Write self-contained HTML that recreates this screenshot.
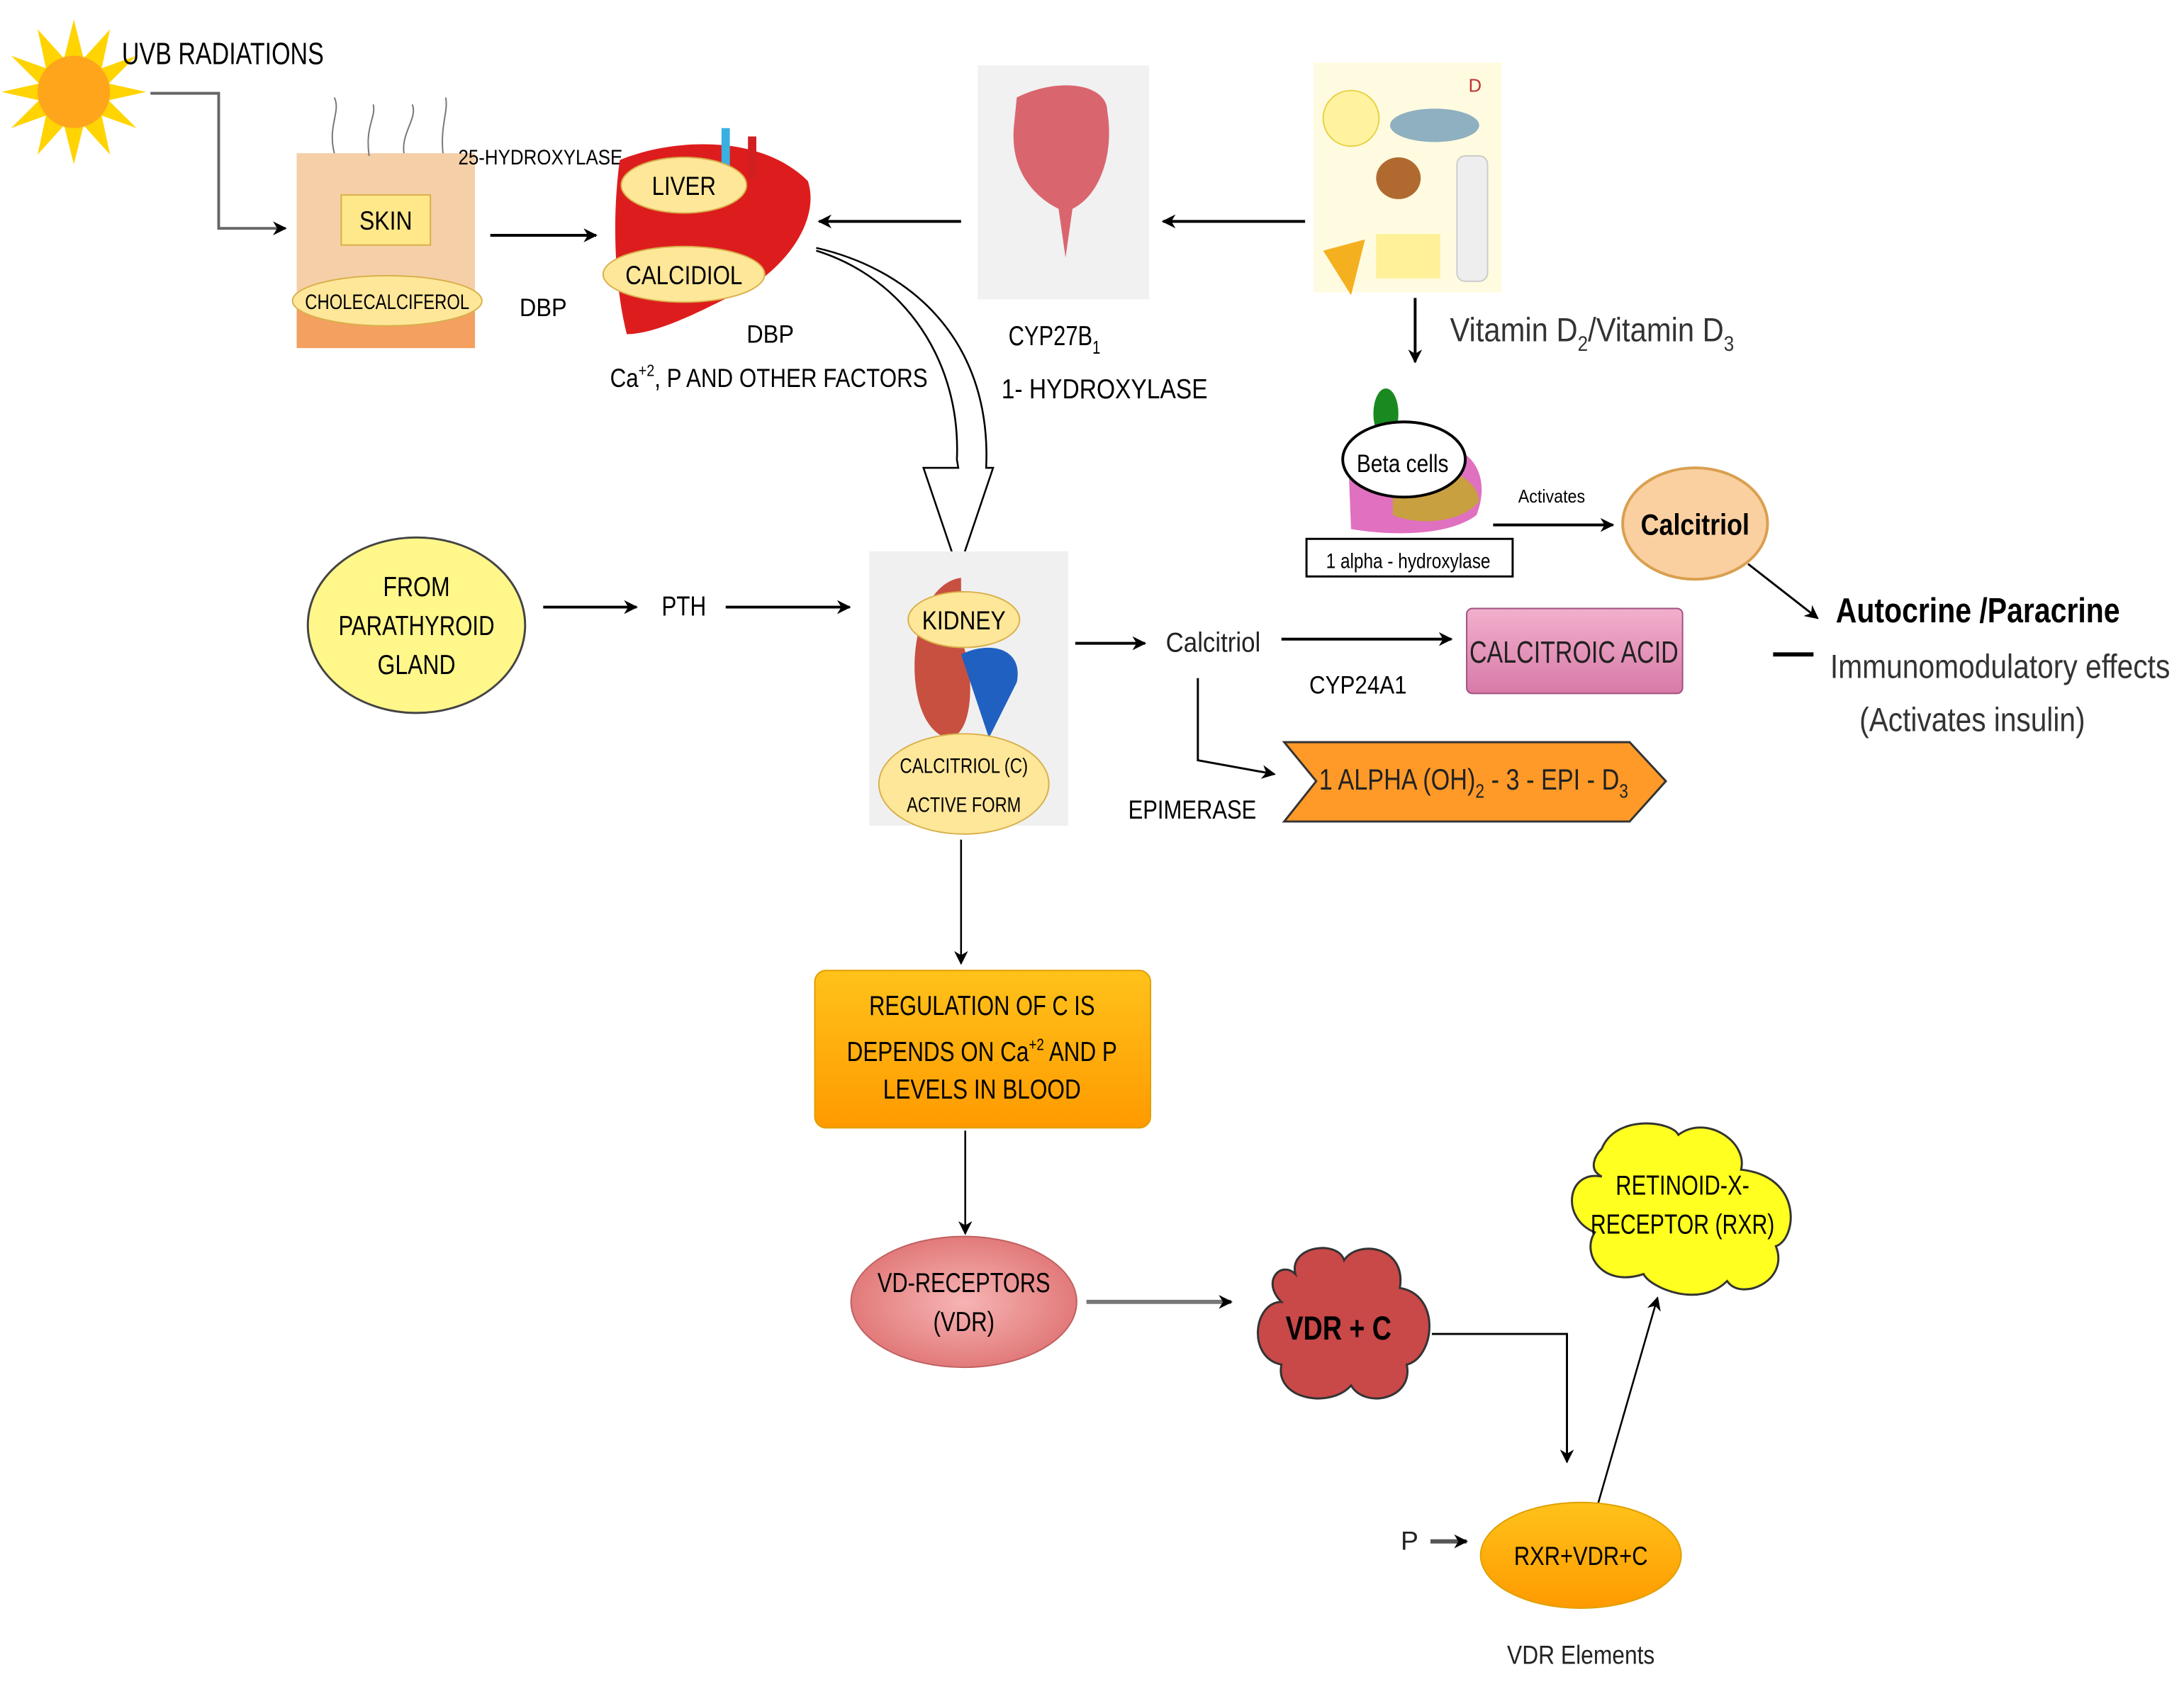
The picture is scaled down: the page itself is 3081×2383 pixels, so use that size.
<!DOCTYPE html>
<html><head><meta charset="utf-8"><style>html,body{margin:0;padding:0;background:#fff}svg{display:block}</style></head>
<body>
<svg width="3081" height="2383" viewBox="0 0 1568 1213" preserveAspectRatio="none" xmlns="http://www.w3.org/2000/svg" font-family="Liberation Sans, sans-serif">
<defs>
<marker id="a" markerWidth="10" markerHeight="10" refX="9" refY="5" orient="auto" markerUnits="userSpaceOnUse"><path d="M0,0 L10,5 L0,10 L3,5 z" fill="#000"/></marker>
<linearGradient id="og" x1="0" y1="0" x2="0" y2="1"><stop offset="0" stop-color="#ffc21a"/><stop offset="1" stop-color="#ff9a00"/></linearGradient>
<linearGradient id="pg" x1="0" y1="0" x2="0" y2="1"><stop offset="0" stop-color="#f2b0cc"/><stop offset="1" stop-color="#d77aa8"/></linearGradient>
<radialGradient id="rg"><stop offset="0" stop-color="#f7b4b4"/><stop offset="1" stop-color="#e27a7a"/></radialGradient>
</defs>
<g fill="#000" text-anchor="middle">
<!-- sun -->
<g transform="translate(53,66)"><polygon fill="#ffd400" points="0,-52 7,-24 26,-45 20,-17 45,-26 25,-6 52,0 25,6 45,26 20,17 26,45 7,24 0,52 -7,24 -26,45 -20,17 -45,26 -25,6 -52,0 -25,-6 -45,-26 -20,-17 -26,-45 -7,-24"/><circle r="26" fill="#ffa51c"/></g>
<text x="160" y="46" font-size="22" textLength="145" lengthAdjust="spacingAndGlyphs">UVB RADIATIONS</text>
<polyline points="108,67 157,67 157,164 205,164" fill="none" stroke="#666" stroke-width="2" marker-end="url(#a)"/>
<!-- skin -->
<rect x="213" y="110" width="128" height="135" fill="#f5cfa8"/>
<rect x="213" y="215" width="128" height="35" fill="#f3a060"/>
<path d="M240,110 C235,90 245,80 240,70 M265,112 C262,90 270,85 268,75 M290,110 C288,95 300,85 296,75 M318,110 C316,90 322,80 320,70" stroke="#777" fill="none"/>
<rect x="245" y="140" width="64" height="36" fill="#ffe88a" stroke="#d9b04a"/>
<text x="277" y="165" font-size="19" textLength="38" lengthAdjust="spacingAndGlyphs">SKIN</text>
<ellipse cx="278" cy="216" rx="68" ry="18" fill="#ffe79a" stroke="#d9b04a"/>
<text x="278" y="222" font-size="15" textLength="118" lengthAdjust="spacingAndGlyphs">CHOLECALCIFEROL</text>
<line x1="352" y1="169" x2="428" y2="169" stroke="#000" stroke-width="2" marker-end="url(#a)"/>
<text x="390" y="227" font-size="18" textLength="34" lengthAdjust="spacingAndGlyphs">DBP</text>
<text x="388" y="118" font-size="15" textLength="118" lengthAdjust="spacingAndGlyphs">25-HYDROXYLASE</text>
<!-- liver -->
<path d="M445,115 C480,100 545,95 580,130 C590,160 560,200 520,215 C500,225 470,240 450,240 C440,200 440,150 445,115z" fill="#dd1d1d"/>
<rect x="518" y="92" width="6" height="40" fill="#3ab0e0"/><rect x="537" y="98" width="6" height="30" fill="#d02020"/>
<ellipse cx="491" cy="133" rx="45" ry="20" fill="#ffe79a" stroke="#d9b04a"/>
<text x="491" y="140" font-size="19" textLength="46" lengthAdjust="spacingAndGlyphs">LIVER</text>
<ellipse cx="491" cy="197" rx="58" ry="20" fill="#ffe79a" stroke="#d9b04a"/>
<text x="491" y="204" font-size="19" textLength="84" lengthAdjust="spacingAndGlyphs">CALCIDIOL</text>
<text x="553" y="246" font-size="18" textLength="34" lengthAdjust="spacingAndGlyphs">DBP</text>
<text x="552" y="278" font-size="19" textLength="228" lengthAdjust="spacingAndGlyphs">Ca<tspan font-size="12" dy="-8">+2</tspan><tspan dy="8">, P AND OTHER FACTORS</tspan></text>
<line x1="690" y1="159" x2="588" y2="159" stroke="#000" stroke-width="2" marker-end="url(#a)"/>
<!-- intestine -->
<rect x="702" y="47" width="123" height="168" fill="#f1f1f1"/>
<path d="M730,70 C760,55 795,60 795,80 C800,110 790,140 770,150 L765,185 L760,150 C740,140 725,120 728,90z" fill="#d9666e"/>
<text x="757" y="248" font-size="20" textLength="66" lengthAdjust="spacingAndGlyphs">CYP27B<tspan font-size="13" dy="6">1</tspan></text>
<text x="793" y="286" font-size="20" textLength="148" lengthAdjust="spacingAndGlyphs">1- HYDROXYLASE</text>
<line x1="937" y1="159" x2="835" y2="159" stroke="#000" stroke-width="2" marker-end="url(#a)"/>
<!-- food -->
<rect x="943" y="45" width="135" height="165" fill="#fffbe0"/>
<circle cx="970" cy="85" r="20" fill="#fff3a0" stroke="#e8d040"/>
<ellipse cx="1030" cy="90" rx="32" ry="12" fill="#8fb0c0"/>
<ellipse cx="1004" cy="128" rx="16" ry="15" fill="#b06a30"/>
<rect x="1046" y="112" width="22" height="90" rx="6" fill="#eee" stroke="#ccc"/>
<polygon points="950,180 980,172 970,212" fill="#f5b020"/>
<rect x="988" y="168" width="46" height="32" fill="#fff09a"/>
<text x="1059" y="66" font-size="13" fill="#c03030">D</text>
<line x1="1016" y1="214" x2="1016" y2="260" stroke="#000" stroke-width="2" marker-end="url(#a)"/>
<text x="1143" y="245" font-size="24" fill="#333" textLength="204" lengthAdjust="spacingAndGlyphs">Vitamin D<tspan font-size="15" dy="7">2</tspan><tspan dy="-7">/Vitamin D</tspan><tspan font-size="15" dy="7">3</tspan></text>
<!-- curved arrow -->
<path d="M586,180 C650,200 690,260 687,330 L688,336 L663,336 L688,410 L713,336 L708,336 C712,250 660,195 586,178" fill="#fff" stroke="#000" stroke-width="1.3"/>
<!-- pancreas -->
<ellipse cx="995" cy="297" rx="9" ry="18" fill="#1a8a20"/>
<path d="M968,330 C970,300 1010,300 1030,320 C1060,320 1070,345 1060,370 C1040,385 1000,385 970,380z" fill="#e070c0"/>
<path d="M1000,340 C1030,330 1060,340 1062,360 C1050,375 1020,378 1000,370z" fill="#c8a040"/>
<ellipse cx="1008" cy="330" rx="44" ry="27" fill="#fff" stroke="#000" stroke-width="2"/>
<text x="1007" y="339" font-size="18" textLength="66" lengthAdjust="spacingAndGlyphs">Beta cells</text>
<rect x="938" y="387" width="148" height="27" fill="#fff" stroke="#000" stroke-width="1.5"/>
<text x="1011" y="408" font-size="15" textLength="118" lengthAdjust="spacingAndGlyphs">1 alpha - hydroxylase</text>
<text x="1114" y="361" font-size="13" textLength="48" lengthAdjust="spacingAndGlyphs">Activates</text>
<line x1="1072" y1="377" x2="1158" y2="377" stroke="#000" stroke-width="2" marker-end="url(#a)"/>
<ellipse cx="1217" cy="376" rx="52" ry="40" fill="#fbd0a0" stroke="#d9a050" stroke-width="2"/>
<text x="1217" y="384" font-size="21" font-weight="bold" textLength="78" lengthAdjust="spacingAndGlyphs">Calcitriol</text>
<line x1="1255" y1="405" x2="1305" y2="444" stroke="#000" stroke-width="1.5" marker-end="url(#a)"/>
<text x="1420" y="447" font-size="25" font-weight="bold" textLength="204" lengthAdjust="spacingAndGlyphs">Autocrine /Paracrine</text>
<line x1="1273" y1="470" x2="1302" y2="470" stroke="#000" stroke-width="3"/>
<text x="1436" y="487" font-size="24" fill="#333" textLength="244" lengthAdjust="spacingAndGlyphs">Immunomodulatory effects</text>
<text x="1416" y="525" font-size="24" fill="#333" textLength="162" lengthAdjust="spacingAndGlyphs">(Activates insulin)</text>
<!-- parathyroid -->
<ellipse cx="299" cy="449" rx="78" ry="63" fill="#fff78a" stroke="#444" stroke-width="1.5"/>
<text x="299" y="428" font-size="20" textLength="48" lengthAdjust="spacingAndGlyphs">FROM</text>
<text x="299" y="456" font-size="20" textLength="112" lengthAdjust="spacingAndGlyphs">PARATHYROID</text>
<text x="299" y="484" font-size="20" textLength="56" lengthAdjust="spacingAndGlyphs">GLAND</text>
<line x1="390" y1="436" x2="457" y2="436" stroke="#000" stroke-width="2" marker-end="url(#a)"/>
<text x="491" y="442" font-size="20" textLength="32" lengthAdjust="spacingAndGlyphs">PTH</text>
<line x1="521" y1="436" x2="610" y2="436" stroke="#000" stroke-width="2" marker-end="url(#a)"/>
<!-- kidney -->
<rect x="624" y="396" width="143" height="197" fill="#f0f0f0"/>
<path d="M690,415 C650,420 645,520 680,530 C700,530 700,480 690,460z" fill="#c85040"/>
<path d="M690,470 C710,460 735,465 730,490 L710,530 L700,500z" fill="#2060c0"/>
<ellipse cx="692" cy="445" rx="40" ry="20" fill="#ffe79a" stroke="#d9b04a"/>
<text x="692" y="452" font-size="19" textLength="60" lengthAdjust="spacingAndGlyphs">KIDNEY</text>
<ellipse cx="692" cy="563" rx="61" ry="36" fill="#ffe79a" stroke="#d9b04a"/>
<text x="692" y="555" font-size="15" textLength="92" lengthAdjust="spacingAndGlyphs">CALCITRIOL (C)</text>
<text x="692" y="583" font-size="15" textLength="82" lengthAdjust="spacingAndGlyphs">ACTIVE FORM</text>
<line x1="772" y1="462" x2="822" y2="462" stroke="#000" stroke-width="2" marker-end="url(#a)"/>
<text x="871" y="468" font-size="20" fill="#222" textLength="68" lengthAdjust="spacingAndGlyphs">Calcitriol</text>
<line x1="920" y1="459" x2="1042" y2="459" stroke="#000" stroke-width="2" marker-end="url(#a)"/>
<text x="975" y="498" font-size="18" textLength="70" lengthAdjust="spacingAndGlyphs">CYP24A1</text>
<rect x="1053" y="437" width="155" height="61" rx="4" fill="url(#pg)" stroke="#a05080"/>
<text x="1130" y="476" font-size="22" fill="#222" textLength="150" lengthAdjust="spacingAndGlyphs">CALCITROIC ACID</text>
<polyline points="860,487 860,546 915,556" fill="none" stroke="#000" stroke-width="1.5" marker-end="url(#a)"/>
<text x="856" y="588" font-size="19" textLength="92" lengthAdjust="spacingAndGlyphs">EPIMERASE</text>
<polygon points="922,533 1170,533 1196,561 1170,590 922,590 945,561" fill="#ff9a28" stroke="#333" stroke-width="1.5"/>
<text x="1058" y="567" font-size="21" fill="#222" textLength="222" lengthAdjust="spacingAndGlyphs">1 ALPHA (OH)<tspan font-size="14" dy="6">2</tspan><tspan dy="-6"> - 3 - EPI - D</tspan><tspan font-size="14" dy="6">3</tspan></text>
<!-- down -->
<line x1="690" y1="603" x2="690" y2="692" stroke="#000" stroke-width="1.3" marker-end="url(#a)"/>
<rect x="585" y="697" width="241" height="113" rx="8" fill="url(#og)" stroke="#e0a000"/>
<text x="705" y="729" font-size="20" textLength="162" lengthAdjust="spacingAndGlyphs">REGULATION OF C IS</text>
<text x="705" y="762" font-size="20" textLength="194" lengthAdjust="spacingAndGlyphs">DEPENDS ON Ca<tspan font-size="12" dy="-8">+2</tspan><tspan dy="8"> AND P</tspan></text>
<text x="705" y="789" font-size="20" textLength="142" lengthAdjust="spacingAndGlyphs">LEVELS IN BLOOD</text>
<line x1="693" y1="812" x2="693" y2="886" stroke="#000" stroke-width="1.3" marker-end="url(#a)"/>
<ellipse cx="692" cy="935" rx="81" ry="47" fill="url(#rg)" stroke="#c06060"/>
<text x="692" y="928" font-size="20" textLength="124" lengthAdjust="spacingAndGlyphs">VD-RECEPTORS</text>
<text x="692" y="956" font-size="20" textLength="44" lengthAdjust="spacingAndGlyphs">(VDR)</text>
<line x1="780" y1="935" x2="884" y2="935" stroke="#777" stroke-width="3" marker-end="url(#a)"/>
<!-- VDR+C cloud -->
<g fill="#c94848" stroke="#333" stroke-width="1.5">
<path d="M930,915 C925,895 960,890 965,905 C975,890 1010,895 1005,925 C1035,930 1030,975 1010,980 C1015,1005 980,1012 970,995 C955,1012 915,1005 920,980 C895,975 900,935 920,935 C905,920 920,905 930,915z"/></g>
<text x="961" y="962" font-size="24" font-weight="bold" textLength="76" lengthAdjust="spacingAndGlyphs">VDR + C</text>
<polyline points="1028,958 1125,958 1125,1050" fill="none" stroke="#000" stroke-width="1.5" marker-end="url(#a)"/>
<!-- RXR cloud -->
<path d="M1150,825 C1160,800 1200,805 1205,815 C1225,800 1255,820 1250,840 C1295,845 1290,890 1275,895 C1285,920 1250,935 1240,920 C1220,940 1185,925 1180,915 C1150,925 1135,900 1145,885 C1120,875 1125,840 1150,845 C1140,840 1145,830 1150,825z" fill="#ffff20" stroke="#333" stroke-width="1.5"/>
<text x="1208" y="858" font-size="20" textLength="96" lengthAdjust="spacingAndGlyphs">RETINOID-X-</text>
<text x="1208" y="886" font-size="20" textLength="132" lengthAdjust="spacingAndGlyphs">RECEPTOR (RXR)</text>
<line x1="1147" y1="1081" x2="1190" y2="932" stroke="#000" stroke-width="1.3" marker-end="url(#a)"/>
<text x="1012" y="1113" font-size="19" fill="#222">P</text>
<line x1="1027" y1="1107" x2="1053" y2="1107" stroke="#555" stroke-width="3" marker-end="url(#a)"/>
<ellipse cx="1135" cy="1117" rx="72" ry="38" fill="url(#og)" stroke="#e0a000"/>
<text x="1135" y="1124" font-size="19" textLength="96" lengthAdjust="spacingAndGlyphs">RXR+VDR+C</text>
<text x="1135" y="1195" font-size="19" fill="#222" textLength="106" lengthAdjust="spacingAndGlyphs">VDR Elements</text>
</g>
</svg>
</body></html>
